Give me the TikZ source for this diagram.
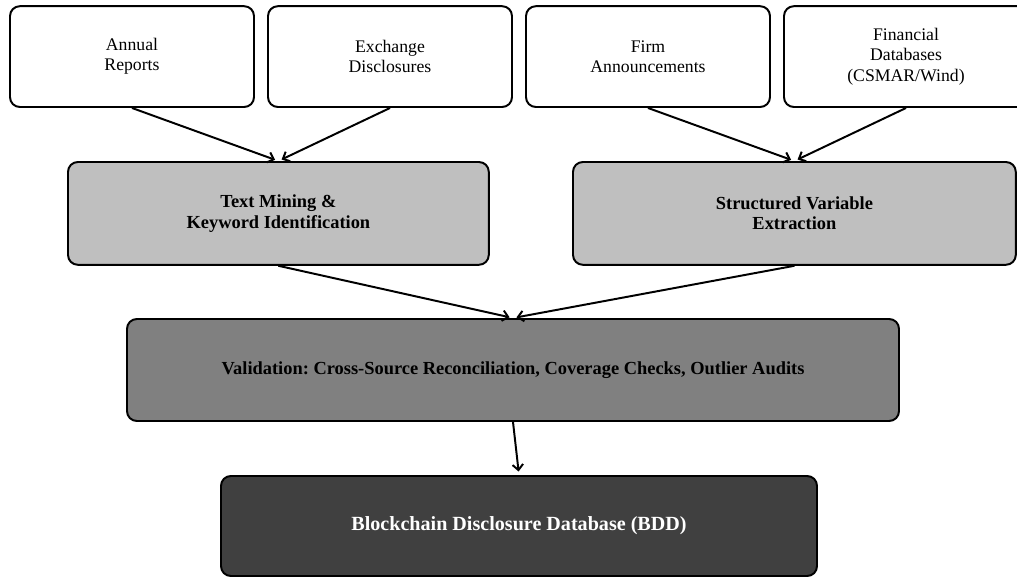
\documentclass[tikz,border=0pt]{standalone}
\usepackage{fontspec}
\setmainfont{Liberation Serif}
\frenchspacing
\usetikzlibrary{arrows.meta}
\definecolor{BddInk}{HTML}{000000}
\definecolor{BddLight}{HTML}{BFBFBF}
\definecolor{BddMid}{HTML}{808080}
\definecolor{BddDark}{HTML}{404040}
\tikzset{
  bdd box/.style={draw=BddInk, line width=1.4pt, rounded corners=7pt, align=center, inner sep=0pt},
  bdd source/.style={bdd box, fill=white, minimum width=6.10cm, minimum height=2.52cm,
    font=\fontsize{12.6}{14.4}\selectfont},
  bdd process/.style={bdd box, fill=BddLight, minimum height=2.57cm,
    font=\bfseries\fontsize{13.1}{14.6}\selectfont},
  bdd check/.style={bdd box, fill=BddMid, minimum width=19.30cm, minimum height=2.55cm,
    font=\bfseries\fontsize{13.1}{14.6}\selectfont},
  bdd final/.style={bdd box, fill=BddDark, minimum width=14.90cm, minimum height=2.50cm,
    font=\bfseries\fontsize{14.3}{16}\selectfont, text=white},
  bdd flow/.style={draw=BddInk, line width=1.4pt, shorten >=2.5pt,
    -{Straight Barb[length=4pt,width=7.5pt]}},
}

\begin{document}
\begin{tikzpicture}[x=1cm,y=1cm]
  \useasboundingbox (0,0) rectangle (25.425,14.425);
  \clip (0,0) rectangle (25.425,14.425);

  % sources
  \node[bdd source] (annual)   at (3.30,13.01)  {Annual\\Reports};
  \node[bdd source] (exchange) at (9.75,13.01)  {Exchange\\Disclosures};
  \node[bdd source] (firm)     at (16.20,13.01) {Firm\\Announcements};
  \node[bdd source] (findb)    at (22.65,13.01) {Financial\\Databases\\(CSMAR/Wind)};

  % processing
  \node[bdd process, minimum width=10.52cm] (textmine)  at (6.96,9.09)
    {Text Mining \&\\Keyword Identification};
  \node[bdd process, minimum width=11.07cm] (structvar) at (19.86,9.09)
    {Structured Variable\\Extraction};

  \node[bdd check] (valid) at (12.825,5.175)
    {Validation: Cross-Source Reconciliation, Coverage Checks, Outlier Audits};
  \node[bdd final] (bdd) at (12.975,1.275) {Blockchain Disclosure Database (BDD)};

  \draw[bdd flow] (annual.south)    -- (textmine.north);
  \draw[bdd flow] (exchange.south)  -- (textmine.north);
  \draw[bdd flow] (firm.south)      -- (structvar.north);
  \draw[bdd flow] (findb.south)     -- (structvar.north);
  \draw[bdd flow] (textmine.south)  -- (valid.north);
  \draw[bdd flow] (structvar.south) -- (valid.north);
  \draw[bdd flow] (valid.south)     -- (bdd.north);
\end{tikzpicture}
\end{document}
